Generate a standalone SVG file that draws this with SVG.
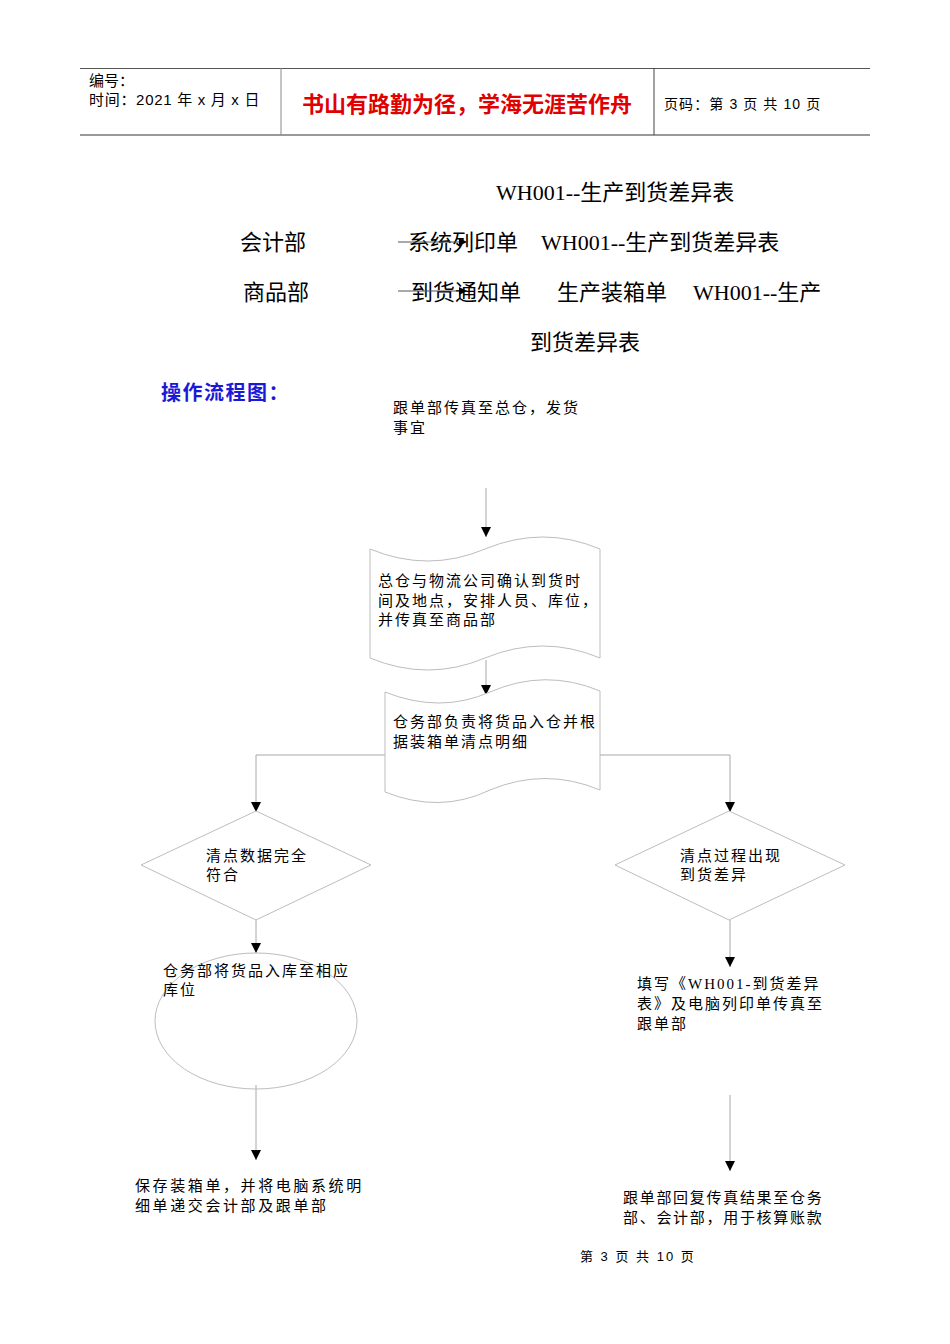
<svg xmlns="http://www.w3.org/2000/svg" width="950" height="1344" viewBox="0 0 950 1344">
<defs>
<style>
.t{font-family:"Liberation Serif","Noto Sans CJK SC",serif;fill:#000}
.s{font-family:"Liberation Sans","Noto Sans CJK SC",sans-serif;fill:#000}
.b{font-size:15px;letter-spacing:2px}
.h{font-size:22px}
.shape{fill:#fff;stroke:#bdbdbd;stroke-width:1}
.c{fill:none;stroke:#a8a8a8;stroke-width:1}
</style>
<marker id="ah" viewBox="0 0 10 10" refX="10" refY="5" markerWidth="10" markerHeight="10" markerUnits="userSpaceOnUse" orient="auto">
<path d="M0,0 L10,5 L0,10 Z" fill="#000"/>
</marker>
<marker id="ahs" viewBox="0 0 10 10" refX="10" refY="5" markerWidth="8" markerHeight="8" markerUnits="userSpaceOnUse" orient="auto">
<path d="M0,0 L10,5 L0,10 Z" fill="#000"/>
</marker>
</defs>
<rect width="950" height="1344" fill="#fff"/>

<g id="header">
<line x1="80" y1="68.5" x2="870" y2="68.5" stroke="#555" stroke-width="1"/>
<line x1="80" y1="135" x2="870" y2="135" stroke="#999" stroke-width="2"/>
<line x1="281" y1="68" x2="281" y2="135" stroke="#888" stroke-width="1"/>
<line x1="654" y1="68" x2="654" y2="135" stroke="#444" stroke-width="1"/>
<text class="s" x="89" y="86" font-size="15">编号：</text>
<text class="s" x="89" y="105" font-size="15" letter-spacing="0.7">时间：2021 年 x 月 x 日</text>
<text class="s" x="302" y="112" font-size="22" font-weight="bold" style="fill:#e00000">书山有路勤为径，学海无涯苦作舟</text>
<text class="s" x="664" y="109" font-size="14" letter-spacing="1.1">页码：第 3 页  共 10 页</text>
</g>

<g id="intro">
<text class="t h" x="496" y="200">WH001--生产到货差异表</text>
<text class="t h" x="240" y="250">会计部</text>
<text class="t h" x="408" y="250">系统列印单</text>
<text class="t h" x="541" y="250">WH001--生产到货差异表</text>
<text class="t h" x="243" y="300">商品部</text>
<text class="t h" x="411" y="300">到货通知单</text>
<text class="t h" x="557" y="300">生产装箱单</text>
<text class="t h" x="693" y="300">WH001--生产</text>
<text class="t h" x="530" y="350">到货差异表</text>
<line x1="398" y1="242" x2="467" y2="242" stroke="#555" stroke-width="1" marker-end="url(#ahs)"/>
<line x1="398" y1="291" x2="467" y2="291" stroke="#555" stroke-width="1" marker-end="url(#ahs)"/>
<text class="s" x="161" y="400" font-size="20" font-weight="bold" letter-spacing="1.5" style="fill:#1a1ad6">操作流程图：</text>
</g>

<g id="connectors">
<line class="c" x1="486" y1="488" x2="486" y2="537" marker-end="url(#ah)"/>
<line class="c" x1="486" y1="660" x2="486" y2="695" marker-end="url(#ah)"/>
<polyline class="c" points="385,755 256,755 256,812" marker-end="url(#ah)"/>
<polyline class="c" points="600,755 730,755 730,812" marker-end="url(#ah)"/>
<line class="c" x1="256" y1="920" x2="256" y2="953" marker-end="url(#ah)"/>
<line class="c" x1="256" y1="1085" x2="256" y2="1160" marker-end="url(#ah)"/>
<line class="c" x1="730" y1="920" x2="730" y2="967" marker-end="url(#ah)"/>
<line class="c" x1="730" y1="1095" x2="730" y2="1171" marker-end="url(#ah)"/>
</g>

<g id="n1">
<text class="t b" x="393" y="413">跟单部传真至总仓，发货</text>
<text class="t b" x="393" y="433">事宜</text>
</g>

<g id="n2">
<path class="shape" d="M370,549 Q428,573 485,549 Q543,525 600,549 L600,658 Q543,634 485,658 Q428,682 370,658 Z"/>
<text class="t b" x="378" y="586">总仓与物流公司确认到货时</text>
<text class="t b" x="378" y="606">间及地点，安排人员、库位，</text>
<text class="t b" x="378" y="625">并传真至商品部</text>
</g>

<g id="n3">
<path class="shape" d="M385,692 Q440,714 490,692 Q545,668 600,691 L600,790 Q545,767 490,790 Q440,814 385,792 Z"/>
<text class="t b" x="393" y="727">仓务部负责将货品入仓并根</text>
<text class="t b" x="393" y="747">据装箱单清点明细</text>
</g>

<g id="n4">
<polygon class="shape" points="256,811 371,865 256,920 141,865"/>
<text class="t b" x="206" y="861">清点数据完全</text>
<text class="t b" x="206" y="880">符合</text>
</g>

<g id="n5">
<polygon class="shape" points="729,811 845,865 729,920 615,865"/>
<text class="t b" x="680" y="861">清点过程出现</text>
<text class="t b" x="680" y="880">到货差异</text>
</g>

<g id="n6">
<ellipse class="shape" cx="256" cy="1021" rx="101" ry="68" style="fill:none"/>
<text class="t b" x="163" y="976">仓务部将货品入库至相应</text>
<text class="t b" x="163" y="995">库位</text>
</g>

<g id="n7">
<text class="t b" x="637" y="989">填写《WH001-到货差异</text>
<text class="t b" x="637" y="1009">表》及电脑列印单传真至</text>
<text class="t b" x="637" y="1029">跟单部</text>
</g>

<g id="n8">
<text class="t b" x="135" y="1191" style="letter-spacing:2.6px">保存装箱单，并将电脑系统明</text>
<text class="t b" x="135" y="1211" style="letter-spacing:2.6px">细单递交会计部及跟单部</text>
</g>

<g id="n9">
<text class="t b" x="623" y="1203" style="letter-spacing:1.7px">跟单部回复传真结果至仓务</text>
<text class="t b" x="623" y="1223" style="letter-spacing:1.7px">部、会计部，用于核算账款</text>
</g>

<g id="footer">
<text class="s" x="580" y="1261" font-size="13" letter-spacing="2">第 3 页 共 10 页</text>
</g>
</svg>
